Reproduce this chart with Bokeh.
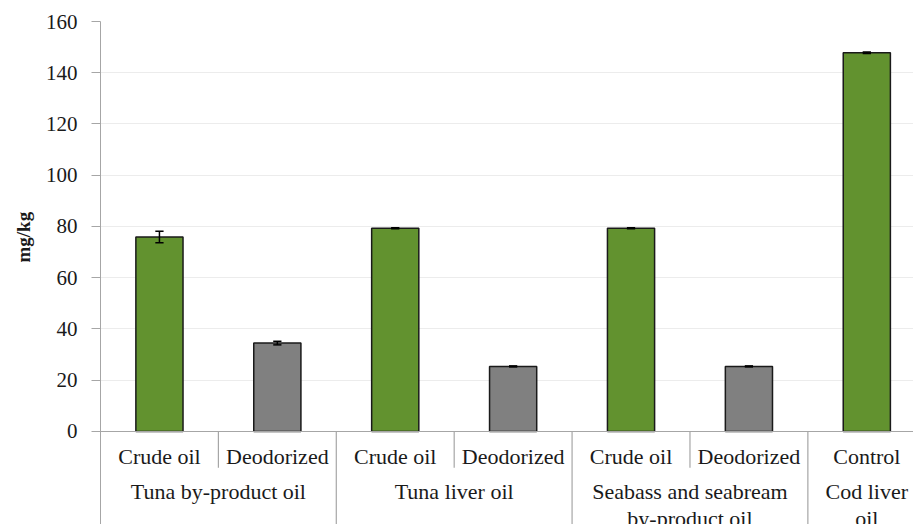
from bokeh.plotting import figure
from bokeh.models import ColumnDataSource, FixedTicker
from bokeh.core.properties import value
from bokeh.embed import file_html
from bokeh.resources import INLINE

# Content (mg/kg) per oil sample
sub_labels = ["Crude oil", "Deodorized", "Crude oil", "Deodorized",
              "Crude oil", "Deodorized", "Control"]
group_labels = ["Tuna by-product oil", "Tuna liver oil",
                "Seabass and seabream\nby-product oil", "Cod liver\noil"]
group_sizes = [2, 2, 2, 1]
values = [75.9, 34.5, 79.3, 25.4, 79.3, 25.4, 147.8]
errors = [2.2, 0.7, 0.2, 0.2, 0.2, 0.2, 0.3]
treatments = ["crude", "deo", "crude", "deo", "crude", "deo", "crude"]
y_ticks = [0, 20, 40, 60, 80, 100, 120, 140, 160]
y_title = "mg/kg"

GREEN = "#62922F"
GRAY = "#808080"
SERIF = "Liberation Serif"
TXT = "#1a1a1a"
AXIS = "#a6a6a6"
Y_LOW = -36.3

xs = list(range(len(values)))
colors = [GREEN if t == "crude" else GRAY for t in treatments]

p = figure(width=913, height=524, output_backend="svg", toolbar_location=None,
           x_range=(-0.5, 6.396), y_range=(Y_LOW, 160),
           title=y_title, title_location="left",
           min_border_left=100, min_border_right=0,
           min_border_top=21, min_border_bottom=0)
p.outline_line_color = None
p.xaxis.visible = False
p.xgrid.visible = False

# rotated quantity title on the left, placed along the 0..160 span
p.title.align = "left"
p.title.offset = 262
p.title.standoff = 17
p.title.text_font = SERIF
p.title.text_font_size = "19px"
p.title.text_font_style = "bold"
p.title.text_color = TXT

yax = p.yaxis[0]
yax.ticker = FixedTicker(ticks=y_ticks)
yax.axis_line_color = AXIS
yax.major_tick_line_color = AXIS
yax.major_tick_out = 9
yax.major_tick_in = 0
yax.minor_tick_line_color = None
yax.major_label_standoff = 14
yax.major_label_text_font = SERIF
yax.major_label_text_font_size = "21px"
yax.major_label_text_color = TXT
p.ygrid.ticker = FixedTicker(ticks=y_ticks)
p.ygrid.grid_line_color = "#ececec"

# bars
src = ColumnDataSource(dict(x=xs, top=values, color=colors,
                            lo=[v - e for v, e in zip(values, errors)],
                            hi=[v + e for v, e in zip(values, errors)]))
p.vbar(x="x", top="top", bottom=0, width=0.4, fill_color="color",
       line_color=TXT, line_width=1.5, source=src)

# error bars with caps
p.segment(x0="x", x1="x", y0="lo", y1="hi", line_color="black",
          line_width=1.5, source=src)
cap = 0.035
p.segment(x0=[x - cap for x in xs], x1=[x + cap for x in xs],
          y0=src.data["hi"], y1=src.data["hi"], line_color="black", line_width=1.5)
p.segment(x0=[x - cap for x in xs], x1=[x + cap for x in xs],
          y0=src.data["lo"], y1=src.data["lo"], line_color="black", line_width=1.5)

# category axis: baseline, group separators and sub-category ticks
p.segment(x0=[-0.5], x1=[6.9], y0=[0], y1=[0], line_color=AXIS, line_width=1.2)
starts = [0]
for s in group_sizes:
    starts.append(starts[-1] + s)
for b in starts[1:-1]:
    p.segment(x0=[b - 0.5], x1=[b - 0.5], y0=[0], y1=[Y_LOW],
              line_color=AXIS, line_width=1.2)
for g, s in zip(starts[:-1], group_sizes):
    for k in range(1, s):
        bx = g + k - 0.5
        p.segment(x0=[bx], x1=[bx], y0=[0], y1=[-14.2],
                  line_color=AXIS, line_width=1.2)

# first-level labels
p.text(x=xs, y=[-9.6] * len(xs), text=sub_labels, text_align="center",
       text_baseline="middle", text_font=value(SERIF), text_font_size="22px",
       text_color=TXT)

# second-level labels
gx = [g + (s - 1) / 2 for g, s in zip(starts[:-1], group_sizes)]
p.text(x=gx, y=[-18.4] * len(gx), text=group_labels, text_align="center",
       text_baseline="top", text_font=value(SERIF), text_font_size="22px",
       text_color=TXT, text_line_height=1.1)

open("out.html", "w").write(file_html(p, INLINE))
